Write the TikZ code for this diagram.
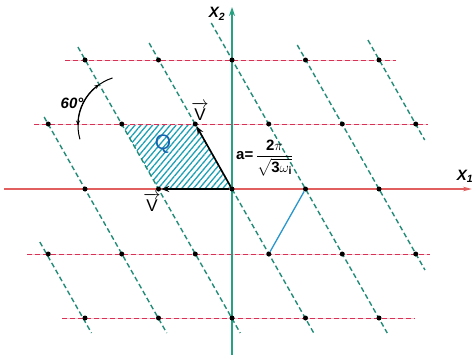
\documentclass[tikz,border=0pt]{standalone}
\usepackage{amsmath}
\usepackage{fontspec}
\setmainfont{Liberation Sans}
\usetikzlibrary{arrows.meta,patterns.meta,backgrounds}
\definecolor{axisred}{RGB}{225,95,95}
\definecolor{rowred}{RGB}{215,50,85}
\definecolor{rowpink}{RGB}{245,200,210}
\definecolor{axisgreen}{RGB}{40,160,130}
\definecolor{linegreen}{RGB}{35,140,120}
\definecolor{hatchteal}{RGB}{30,160,180}
\definecolor{linkblue}{RGB}{40,150,205}
\definecolor{qblue}{RGB}{20,100,175}
\tikzset{
  latdot/.style   = {circle, fill=black, inner sep=0pt, minimum size=5pt},
  rowline/.style  = {rowred, line width=1pt, dash pattern=on 5pt off 3pt},
  rowbase/.style  = {rowpink, line width=1pt},
  colline/.style  = {linegreen, line width=1.4pt, dash pattern=on 5pt off 3pt},
  vecarrow/.style = {-{Stealth[length=8pt,width=6pt]}, line width=1.6pt, black},
  anglarc/.style  = {line width=1pt, black},
  lbl/.style      = {inner sep=0pt},
}

\begin{document}
\begin{tikzpicture}[x=1pt, y=-1pt]
\useasboundingbox (0,0) rectangle (473,356);
% lattice points, rows a (top) to e (bottom)
\foreach \r/\y in {a/60, c/189, e/318}
  \foreach \i in {0,...,4}
    \node[latdot] (\r\i) at ({85+73.5*\i},\y) {};
\foreach \r/\y in {b/124, d/254}
  \foreach \i in {0,...,5}
    \node[latdot] (\r\i) at ({48.25+73.5*\i},\y) {};
\begin{scope}[on background layer]
  \fill[pattern={Lines[angle=50,distance=4.5pt,line width=1.3pt]}, pattern color=hatchteal]
    (c2.center) -- (c1.center) -- (b1.center) -- (b2.center) -- cycle;
  \foreach \y/\xa/\xb in {60/65/396, 124/34/428, 254/27/430, 318/62/415}{
    \draw[rowbase] (\xa,\y) -- (\xb,\y);
    \draw[rowline] (\xa,\y) -- (\xb,\y);
  }
  \foreach \xo/\ya/\yb in {9.75/242/333, 85/117/333, 158.5/47/333, 232/43/333,
                           305.5/23/333, 379/45/270, 452.5/40/140}
    \draw[colline] ({\xo+(\ya-189)*0.5676},\ya) -- ({\xo+(\yb-189)*0.5676},\yb);
  % axes
  \coordinate (x1s) at (4,189);
  \coordinate (x1e) at (472,189);
  \coordinate (x2s) at (232,355);
  \coordinate (x2e) at (232,7);
  \draw[axisred, line width=1.6pt, -{Stealth[length=9pt,width=4.5pt]}] (x1s) -- (x1e);
  \draw[axisgreen, line width=1.8pt, -{Stealth[length=9pt,width=6pt]}] (x2s) -- (x2e);
\end{scope}
\draw[vecarrow] (c2) -- (b2);
\draw[vecarrow] (c2) -- (c1);
\draw[linkblue, line width=1.3pt] (d3) -- (c3);
% angle between the two line families
\draw[anglarc] (128,125.5) ++(252:50) arc[start angle=252, end angle=164, radius=50];
\draw[anglarc, {Stealth[length=5pt,width=4pt]}-{Stealth[length=5pt,width=4pt]}]
  (128,125.5) ++(235:50) arc[start angle=235, end angle=180, radius=50];
% labels
\node[lbl, font=\fontsize{15}{15}\selectfont\bfseries\itshape] (x2lbl) at (217,14) {X\textsubscript{2}};
\node[lbl, font=\fontsize{15}{15}\selectfont\bfseries\itshape] (x1lbl) at (465,176) {X\textsubscript{1}};
\node[lbl, font=\fontsize{15}{15}\selectfont\bfseries\itshape] (anglbl) at (72,103) {60°};
\node[lbl, font=\fontsize{21}{21}\selectfont, text=qblue] (qlbl) at (163,144) {Q};
\node[lbl, font=\fontsize{17}{17}\selectfont] (vup) at (200,111) {$\overrightarrow{\text{V}}$};
\node[lbl, font=\fontsize{17}{17}\selectfont] (vdn) at (152,202) {$\overrightarrow{\text{V}}$};
\node[lbl, anchor=west, font=\fontsize{15}{15}\selectfont\bfseries] (alen) at (236,158)
  {a=\,$\dfrac{\text{2}\pi}{\sqrt{\text{3}\omega_{\text{i}}}}$};
\end{tikzpicture}
\end{document}
